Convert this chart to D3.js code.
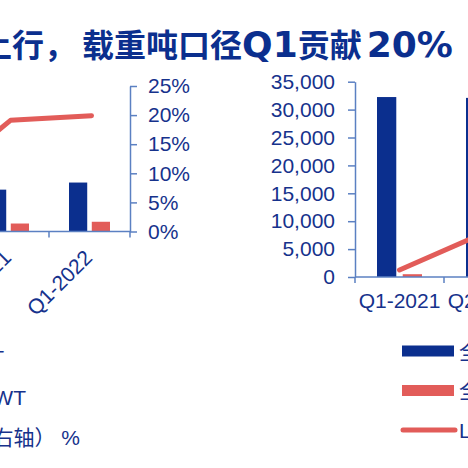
<!DOCTYPE html>
<html>
<head>
<meta charset="utf-8">
<script src="https://cdn.jsdelivr.net/npm/d3@7"></script>
<style>
  html, body { margin: 0; padding: 0; background: #fff; }
  svg { display: block; }
  text { font-family: "Liberation Sans", Arial, "Noto Sans CJK SC", sans-serif; }
</style>
</head>
<body>
<div id="chart"></div>
<script>
// 左图：全球新船订单 / LNG船订单（左轴，万DWT），LNG占比（右轴）
const leftCats = ["Q1-2020", "Q1-2021", "Q1-2022"];
const leftTotal = [2400, 4300, 5030];
const leftLng = [190, 820, 1000];
const leftShare = [0.077, 0.191, 0.199];
const leftPctTicks = [0, 0.05, 0.10, 0.15, 0.20, 0.25];
const leftLegend = ["全球新船订单（左轴） 万DWT", "LNG船订单（左轴） 万DWT", "LNG船占比（右轴） %"];

// 右图
const rightCats = ["Q1-2021", "Q2-2021"];
const rightTotal = [32250, 32100];
const rightLng = [500, 5200];
const rightShare = [0.009, 0.059];
const rightTicks = [0, 5000, 10000, 15000, 20000, 25000, 30000, 35000];
const rightLegend = ["全球新船订单量", "全球LNG船订单量", "LNG船订单占比（右轴）"];

// 标题分段：中文 / 拉丁字符
const titleParts = [
    { t: "上行，", latin: false, dx: 0 },
    { t: "载重吨口径", latin: false, dx: 6 },
    { t: "Q1", latin: true, dx: 0 },
    { t: "贡献", latin: false, dx: 0 },
    { t: "20%", latin: true, dx: 5 }
];

const W = 468, H = 468;
const BLUE = "#0b2f8e", RED = "#e25c59", AXIS = "#5b80c2", TXT = "#16328c";

const svg = d3.select("#chart").append("svg")
    .attr("width", W).attr("height", H);

svg.append("text")
    .attr("x", -20).attr("y", 57)
    .attr("fill", BLUE)
    .style("font-weight", 700)
    .selectAll("tspan").data(titleParts).enter().append("tspan")
    .attr("dx", d => d.dx)
    .style("font-family", d => d.latin ? "'DejaVu Sans', sans-serif" : "'Noto Sans CJK SC', sans-serif")
    .style("font-size", d => d.latin ? "36px" : "32px")
    .text(d => d.t);

// ---------- 左图 ----------
const lx = d3.scaleBand(leftCats, [-113, 130]);
const lSub = d3.scaleBand(["total", "lng"], [20, 61]).paddingInner(0.2);
const lBar = d3.scaleLinear([0, 15000], [231.5, 85.5]);
const lPct = d3.scaleLinear([0, 0.25], [231.5, 86]);

const left = svg.append("g");

left.selectAll(".lt").data(leftCats).enter().append("rect")
    .attr("x", d => lx(d) + lSub("total"))
    .attr("width", lSub.bandwidth())
    .attr("y", (d, i) => lBar(leftTotal[i]))
    .attr("height", (d, i) => lBar(0) - lBar(leftTotal[i]))
    .attr("fill", BLUE);

left.selectAll(".ll").data(leftCats).enter().append("rect")
    .attr("x", d => lx(d) + lSub("lng"))
    .attr("width", lSub.bandwidth())
    .attr("y", (d, i) => lBar(leftLng[i]))
    .attr("height", (d, i) => lBar(0) - lBar(leftLng[i]))
    .attr("fill", RED);

// x 轴
left.append("line")
    .attr("x1", lx.range()[0]).attr("x2", lx.range()[1])
    .attr("y1", 231.5).attr("y2", 231.5)
    .attr("stroke", AXIS).attr("stroke-width", 1.5);
left.selectAll(".ltick").data(leftCats.concat(["end"])).enter().append("line")
    .attr("x1", d => d === "end" ? lx.range()[1] : lx(d))
    .attr("x2", d => d === "end" ? lx.range()[1] : lx(d))
    .attr("y1", 231.5).attr("y2", 237.5)
    .attr("stroke", AXIS).attr("stroke-width", 1.5);
left.selectAll(".lxl").data(leftCats).enter().append("text")
    .attr("transform", d => `translate(${lx(d) + lx.bandwidth() / 2 + 4},259) rotate(-45)`)
    .attr("text-anchor", "end")
    .style("font-size", "21px")
    .attr("fill", TXT)
    .text(d => d);

// 占比折线
left.append("path")
    .datum(leftShare)
    .attr("d", d3.line()
        .x((d, i) => lx(leftCats[i]) + lx.bandwidth() / 2 + 2)
        .y(d => lPct(d)))
    .attr("fill", "none")
    .attr("stroke", RED)
    .attr("stroke-width", 5)
    .attr("stroke-linecap", "round")
    .attr("stroke-linejoin", "round");

// 右轴
const lAxis = left.append("g")
    .attr("transform", "translate(130,0)")
    .call(d3.axisRight(lPct).tickValues(leftPctTicks)
        .tickFormat(d3.format(".0%")).tickSize(7).tickSizeOuter(0).tickPadding(11));
lAxis.selectAll("path, line").attr("stroke", AXIS).attr("stroke-width", 1.5);
lAxis.selectAll("text").attr("fill", TXT).style("font-size", "21px")
    .style("font-family", "'Liberation Sans', Arial, sans-serif");

// 图例（文字）
left.selectAll(".lleg").data(leftLegend).enter().append("text")
    .attr("x", (d, i) => [4, 26, 80][i])
    .attr("y", (d, i) => 365 + i * 40)
    .attr("text-anchor", "end")
    .style("font-size", "21px")
    .attr("fill", TXT)
    .text(d => d);

// ---------- 右图 ----------
const rx = d3.scaleBand(rightCats, [355, 533]);
const rSub = d3.scaleBand(["total", "lng"], [22, 67]).paddingInner(0.25);
const ry = d3.scaleLinear([0, 35000], [277, 81.7]);
const rPct = d3.scaleLinear([0, 0.25], [277, 82]);

const right = svg.append("g");

right.selectAll(".rt").data(rightCats).enter().append("rect")
    .attr("x", d => rx(d) + rSub("total"))
    .attr("width", rSub.bandwidth())
    .attr("y", (d, i) => ry(rightTotal[i]))
    .attr("height", (d, i) => ry(0) - ry(rightTotal[i]))
    .attr("fill", BLUE);

right.selectAll(".rl").data(rightCats).enter().append("rect")
    .attr("x", d => rx(d) + rSub("lng"))
    .attr("width", rSub.bandwidth())
    .attr("y", (d, i) => ry(rightLng[i]))
    .attr("height", (d, i) => ry(0) - ry(rightLng[i]))
    .attr("fill", RED);

right.append("line")
    .attr("x1", rx.range()[0]).attr("x2", rx.range()[1])
    .attr("y1", 277).attr("y2", 277)
    .attr("stroke", AXIS).attr("stroke-width", 1.5);
right.selectAll(".rtick").data(rightCats.concat(["end"])).enter().append("line")
    .attr("x1", d => d === "end" ? rx.range()[1] : rx(d))
    .attr("x2", d => d === "end" ? rx.range()[1] : rx(d))
    .attr("y1", 277).attr("y2", 283)
    .attr("stroke", AXIS).attr("stroke-width", 1.5);
right.selectAll(".rxl").data(rightCats).enter().append("text")
    .attr("x", d => rx(d) + rx.bandwidth() / 2)
    .attr("y", 308)
    .attr("text-anchor", "middle")
    .style("font-size", "21px")
    .attr("fill", TXT)
    .text(d => d);

right.append("path")
    .datum(rightShare)
    .attr("d", d3.line()
        .x((d, i) => rx(rightCats[i]) + rx.bandwidth() / 2)
        .y(d => rPct(d)))
    .attr("fill", "none")
    .attr("stroke", RED)
    .attr("stroke-width", 5)
    .attr("stroke-linecap", "round");

const rAxis = right.append("g")
    .attr("transform", "translate(355,0)")
    .call(d3.axisLeft(ry).tickValues(rightTicks)
        .tickFormat(d3.format(",")).tickSize(7).tickSizeOuter(0).tickPadding(13));
rAxis.selectAll("path, line").attr("stroke", AXIS).attr("stroke-width", 1.5);
rAxis.selectAll("text").attr("fill", TXT).style("font-size", "21px")
    .style("font-family", "'Liberation Sans', Arial, sans-serif");

// 图例
const rleg = right.selectAll(".rleg").data(rightLegend).enter().append("g")
    .attr("transform", (d, i) => `translate(402,${351 + i * 39.5})`);
rleg.filter((d, i) => i < 2).append("rect")
    .attr("x", 0).attr("y", -5.5).attr("width", 52).attr("height", 11)
    .attr("fill", (d, i) => i === 0 ? BLUE : RED);
rleg.filter((d, i) => i === 2).append("line")
    .attr("x1", 1).attr("x2", 53).attr("y1", 0).attr("y2", 0)
    .attr("stroke", RED).attr("stroke-width", 5).attr("stroke-linecap", "round");
rleg.append("text")
    .attr("x", 57).attr("y", 7.5)
    .style("font-size", "21px")
    .attr("fill", TXT)
    .text(d => d);
</script>
</body>
</html>
